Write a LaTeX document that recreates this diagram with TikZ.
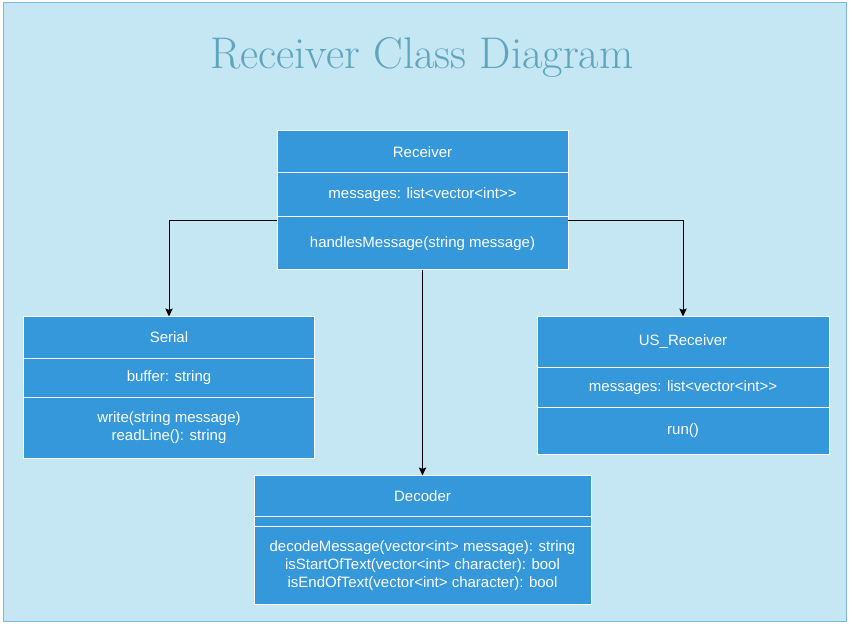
\documentclass[tikz,border=0pt]{standalone}
\usepackage{fontspec}
\setsansfont{Liberation Sans}
\usetikzlibrary{positioning,arrows.meta}

\definecolor{bgblue}{HTML}{C5E6F3}
\definecolor{frameblue}{HTML}{7FB5E0}
\definecolor{classblue}{HTML}{3598DB}
\definecolor{titleblue}{HTML}{5FA5BD}

\tikzset{
  compart/.style 2 args={draw=white, line width=0.75pt, fill=classblue,
    text=white, font=\sffamily\fontsize{11.25}{13.5}\selectfont,
    minimum width=#1*0.75pt, minimum height=#2*0.75pt,
    inner sep=0pt, outer sep=0pt, align=center},
  conn/.style={draw=black, line width=0.75pt,
    -{Stealth[length=6pt,width=5.5pt,inset=1pt]}},
  title/.style={text=titleblue, font=\rmfamily\fontsize{33.3}{40}\selectfont,
    anchor=base, inner sep=0pt}
}

\begin{document}
\begin{tikzpicture}[x=0.75pt, y=-0.75pt]

    \useasboundingbox (0,0) rectangle (852,627);
    \draw[frameblue, fill=bgblue, line width=0.75pt] (3,3) rectangle (846,621);

    \node[title] (title) at (422,68.3) {Receiver Class Diagram};

    % Receiver
    \node[compart={291}{41.5}, anchor=north] (recv) at (422.5,131) {Receiver};
    \node[compart={291}{44.5}, below=0pt of recv] (recv-attr) {messages: list<vector<int>{}>};
    \node[compart={291}{52.5}, below=0pt of recv-attr] (recv-ops) {handlesMessage(string message)};

    % Serial
    \node[compart={291}{42}, anchor=north] (serial) at (169,316.5) {Serial};
    \node[compart={291}{39}, below=0pt of serial] (serial-attr) {buffer: string};
    \node[compart={291}{61}, below=0pt of serial-attr] (serial-ops) {write(string message)\\readLine(): string};

    % US_Receiver
    \node[compart={292}{51}, anchor=north] (usrecv) at (683,316.5) {US\_Receiver};
    \node[compart={292}{40}, below=0pt of usrecv] (usrecv-attr) {messages: list<vector<int>{}>};
    \node[compart={292}{47}, below=0pt of usrecv-attr] (usrecv-ops) {run()};

    % Decoder
    \node[compart={337}{41}, anchor=north] (dec) at (422.5,475.5) {Decoder};
    \node[compart={337}{10}, below=0pt of dec] (dec-attr) {};
    \node[compart={337}{78}, below=0pt of dec-attr] (dec-ops)
      {decodeMessage(vector<int> message): string\\isStartOfText(vector<int> character): bool\\isEndOfText(vector<int> character): bool};

    \draw[conn] ([yshift=-2.5pt]recv-ops.north west) -| (serial.north);
    \draw[conn] ([yshift=-2.5pt]recv-ops.north east) -| (usrecv.north);
    \draw[conn] (recv-ops.south) -- (dec.north);

\end{tikzpicture}
\end{document}
